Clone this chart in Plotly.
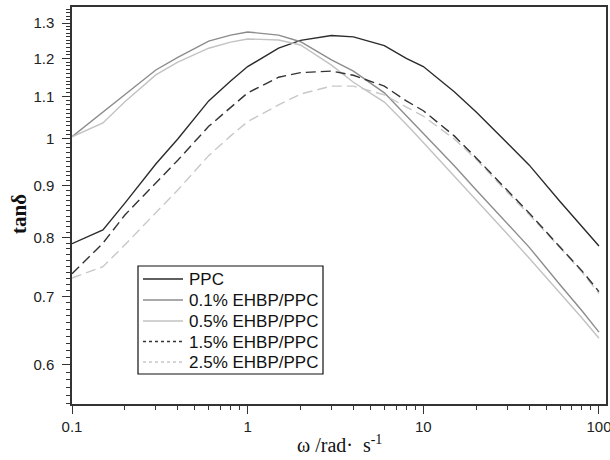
import plotly.graph_objects as go
import numpy as np

# frequency (rad/s)
omega = [0.1, 0.15, 0.2, 0.3, 0.4, 0.6, 0.8, 1.0, 1.5, 2.0, 3.0, 4.0, 6.0, 8.0,
         10, 15, 20, 30, 40, 60, 80, 100]

ppc = [0.789, 0.814, 0.865, 0.945, 1.0, 1.09, 1.14, 1.178, 1.228, 1.25, 1.264, 1.26,
       1.235, 1.20, 1.178, 1.113, 1.063, 0.992, 0.943, 0.868, 0.82, 0.785]
ehbp01 = [1.005, 1.062, 1.105, 1.169, 1.203, 1.248, 1.265, 1.274, 1.265, 1.246, 1.196,
          1.166, 1.11, 1.054, 1.011, 0.941, 0.891, 0.827, 0.783, 0.719, 0.678, 0.646]
ehbp05 = [1.005, 1.037, 1.088, 1.156, 1.19, 1.228, 1.245, 1.254, 1.251, 1.237, 1.182,
          1.137, 1.087, 1.034, 0.992, 0.92, 0.871, 0.807, 0.764, 0.706, 0.667, 0.637]
ehbp15 = [0.737, 0.79, 0.842, 0.906, 0.953, 1.029, 1.075, 1.11, 1.15, 1.162, 1.166,
          1.155, 1.127, 1.09, 1.066, 1.007, 0.958, 0.89, 0.846, 0.783, 0.742, 0.708]
ehbp25 = [0.730, 0.749, 0.787, 0.847, 0.891, 0.963, 1.007, 1.04, 1.08, 1.107, 1.127,
          1.127, 1.105, 1.075, 1.053, 1.0, 0.955, 0.887, 0.843, 0.782, 0.740, 0.705]

names = ["PPC", "0.1% EHBP/PPC", "0.5% EHBP/PPC", "1.5% EHBP/PPC", "2.5% EHBP/PPC"]

y_tickvals = [0.6, 0.7, 0.8, 0.9, 1.0, 1.1, 1.2, 1.3]
y_ticktext = ["0.6", "0.7", "0.8", "0.9", "1", "1.1", "1.2", "1.3"]
x_tickvals = [0.1, 1, 10, 100]
x_ticktext = ["0.1", "1", "10", "100"]

W, H = 610, 460
ML, MR, MT, MB = 72, 4, 7, 56
PW, PH = W - ML - MR, H - MT - MB


def px(p):
    return (p - ML) / PW


def py(p):
    return (H - MB - p) / PH


fig = go.Figure()

colors = ["#2b2b2b", "#8c8c8c", "#c2c2c2", "#333333", "#c8c8c8"]
all_series = [ppc, ehbp01, ehbp05, ehbp15, ehbp25]
order = [0, 1, 2, 4, 3]
dashes = ["solid", "solid", "solid", "10px,5px", "10px,5px"]
leg_dash = ["solid", "solid", "solid", "dot", "dot"]

for i in order:
    fig.add_trace(go.Scatter(x=omega, y=all_series[i], name=names[i],
                             mode="lines", showlegend=False,
                             line=dict(color=colors[i], width=1.4, dash=dashes[i])))

# legend box (drawn with shapes + text)
shapes = [dict(type="rect", xref="paper", yref="paper",
               x0=px(138), x1=px(323), y0=py(374), y1=py(266),
               line=dict(color="#111111", width=1.2), fillcolor="white", layer="above")]
annotations = []
row_y = [279, 300, 321, 341.5, 362]
for i in range(5):
    shapes.append(dict(type="line", xref="paper", yref="paper",
                       x0=px(143), x1=px(183), y0=py(row_y[i]), y1=py(row_y[i]),
                       line=dict(color=colors[i], width=1.5, dash=leg_dash[i]),
                       layer="above"))
    annotations.append(dict(text=names[i], xref="paper", yref="paper",
                            x=px(187), y=py(row_y[i] + 0.5), xanchor="left",
                            yanchor="middle", showarrow=False,
                            font=dict(family="Liberation Sans, Arial", size=17,
                                      color="#111111")))

y_minor = [round(v, 2) for v in np.arange(0.55, 1.345, 0.01) if round(v, 2) not in y_tickvals]
x_minor = [m * d for d in (0.1, 1, 10) for m in range(2, 10)]

axis_common = dict(showline=True, linecolor="#333333", linewidth=1.5, mirror=True,
                   ticks="outside", ticklen=8, tickwidth=1.3, tickcolor="#333333",
                   showgrid=False, zeroline=False, automargin=False,
                   ticklabeloverflow="allow",
                   tickfont=dict(family="Liberation Sans, Arial", size=15, color="#222222"))

fig.update_xaxes(type="log", range=[-1, 2.04], tickmode="array", tickvals=x_tickvals,
                 ticktext=x_ticktext,
                 minor=dict(tickmode="array", tickvals=x_minor, ticks="outside", ticklen=4,
                            tickwidth=1.2, tickcolor="#333333"),
                 **axis_common)
fig.update_yaxes(type="log", range=[np.log10(0.549), np.log10(1.348)], tickmode="array",
                 tickvals=y_tickvals, ticktext=y_ticktext, ticklabelstandoff=5,
                 minor=dict(tickmode="array", tickvals=y_minor, ticks="outside", ticklen=4,
                            tickwidth=1.2, tickcolor="#333333"),
                 **axis_common)

annotations += [
    dict(text="<b>tanδ</b>", textangle=-90, xref="paper", yref="paper",
         x=px(19), y=py(214), xanchor="center", yanchor="middle",
         showarrow=False, font=dict(family="Liberation Serif, Times New Roman", size=21,
                                    color="#111111")),
    dict(text="ω /rad·  s<sup>-1</sup>", xref="paper", yref="paper",
         x=0.5, y=py(444), xanchor="center", yanchor="middle",
         showarrow=False, font=dict(family="Liberation Serif, Times New Roman", size=20,
                                    color="#111111")),
]

fig.update_layout(
    width=W, height=H,
    margin=dict(l=ML, r=MR, t=MT, b=MB),
    plot_bgcolor="white", paper_bgcolor="white",
    showlegend=False,
    shapes=shapes,
    annotations=annotations,
)

fig.write_html("out.html", config={"displayModeBar": False},
               post_script="document.body.style.margin='0';document.body.style.overflow='hidden';")
